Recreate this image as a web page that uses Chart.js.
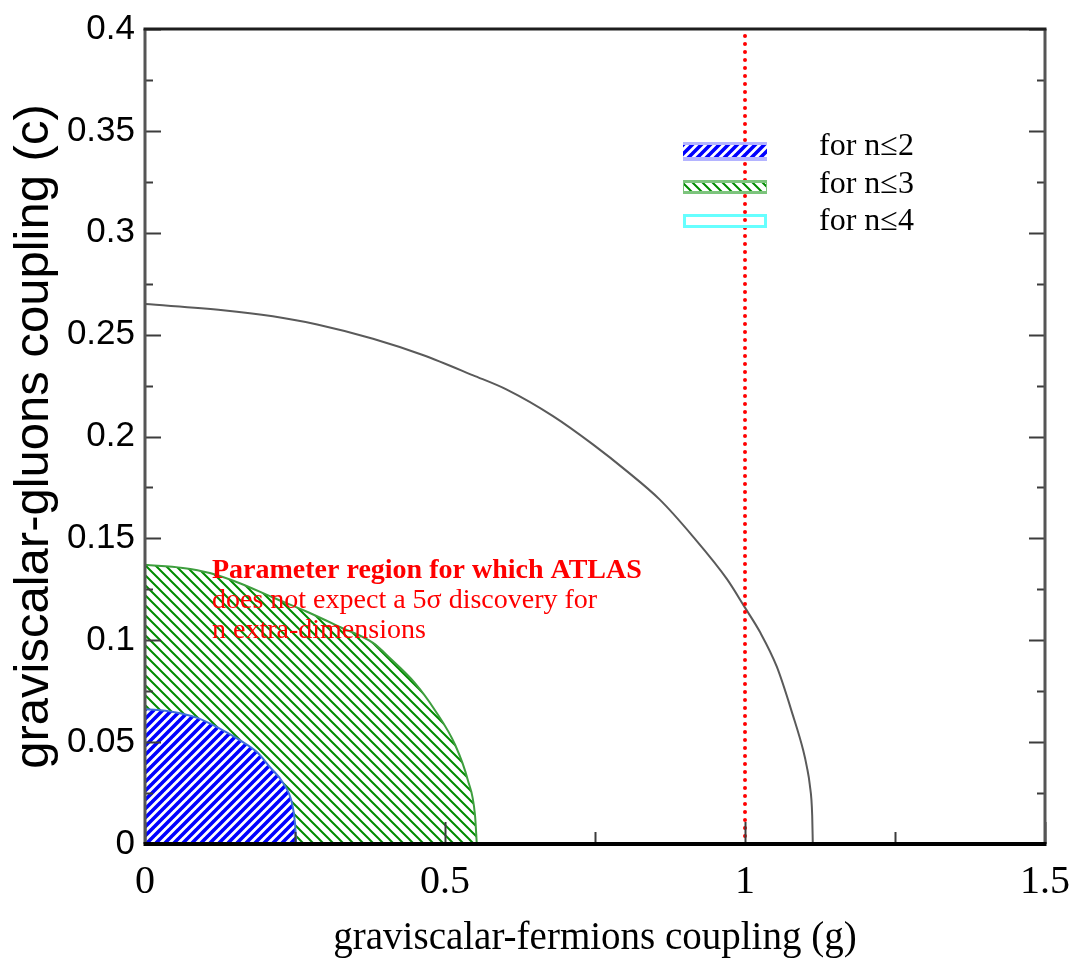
<!DOCTYPE html>
<html>
<head>
<meta charset="utf-8">
<script src="https://cdn.jsdelivr.net/npm/chart.js@4.4.0/dist/chart.umd.min.js"></script>
<style>
  html, body { margin: 0; padding: 0; background: #fff; }
  #wrap { width: 1070px; height: 964px; }
</style>
</head>
<body>
<div id="wrap"><canvas id="chart" width="1070" height="964"></canvas></div>
<script>
// reach curve: graviscalar-fermions coupling g vs graviscalar-gluons coupling c
const reachG = [0, 0.13, 0.213, 0.287, 0.38, 0.463, 0.547, 0.603, 0.68, 0.747, 0.803, 0.858, 0.913, 0.97, 1.0, 1.025, 1.053, 1.08, 1.097, 1.103, 1.108, 1.112, 1.113]
const reachC = [0.265, 0.262, 0.259, 0.255, 0.248, 0.24, 0.23, 0.223, 0.21, 0.196, 0.183, 0.169, 0.151, 0.13, 0.116, 0.104, 0.087, 0.063, 0.046, 0.038, 0.029, 0.014, 0]

// no-discovery region for n <= 3
const n3G = [0, 0.063, 0.108, 0.158, 0.213, 0.27, 0.325, 0.38, 0.408, 0.45, 0.483, 0.517, 0.538, 0.55, 0.553]
const n3C = [0.137, 0.1355, 0.133, 0.128, 0.121, 0.114, 0.1065, 0.0987, 0.0913, 0.079, 0.0658, 0.0486, 0.0314, 0.0142, 0]

// no-discovery region for n <= 2
const n2G = [0, 0.047, 0.087, 0.12, 0.158, 0.187, 0.208, 0.23, 0.245, 0.25, 0.252]
const n2C = [0.0663, 0.0648, 0.0619, 0.0574, 0.051, 0.045, 0.0378, 0.03, 0.02, 0.0103, 0]

// g = 1 reference line
const refG = [1, 1]
const refC = [0, 0.4]

const legendLabels = ['for n\u22642', 'for n\u22643', 'for n\u22644']
const noteLines = ['Parameter region for which ATLAS', 'does not expect a 5\u03c3 discovery for', 'n extra-dimensions']

const toPoints = (gs, cs) => gs.map((g, i) => ({ x: g, y: cs[i] }))
const fmt = v => String(+Number(v).toFixed(3))

const canvas = document.getElementById('chart')
const mainCtx = canvas.getContext('2d')

const makeHatch = (size, color, width, dir) => {
    const c = document.createElement('canvas')
    c.width = size
    c.height = size
    const ctx = c.getContext('2d')
    ctx.fillStyle = '#fff'
    ctx.fillRect(0, 0, size, size)
    ctx.strokeStyle = color
    ctx.lineWidth = width
    ctx.beginPath()
    for (const o of [-size, 0, size]) {
        if (dir === '/') {
            ctx.moveTo(o - 1, size + 1)
            ctx.lineTo(o + size + 1, -1)
        } else {
            ctx.moveTo(o - 1, -1)
            ctx.lineTo(o + size + 1, size + 1)
        }
    }
    ctx.stroke()
    return mainCtx.createPattern(c, 'repeat')
}

const blueHatch = makeHatch(9, '#0000ff', 3.6, '/')
const greenHatch = makeHatch(10, '#008c00', 2, '\\')

// inward ticks on left, right and bottom, the frame, legend and note
const frameAndTicks = {
    id: 'frameAndTicks',
    afterDatasetsDraw(chart) {
        const { ctx, chartArea: { left, right, top, bottom }, scales: { x, y } } = chart
        ctx.save()
        ctx.strokeStyle = '#3c3c3c'
        ctx.lineWidth = 2
        const yv = y.ticks.map(t => t.value)
        const xv = x.ticks.map(t => t.value)
        const drawY = (v, len) => {
            const py = Math.round(y.getPixelForValue(v)) + 0.5
            ctx.beginPath()
            ctx.moveTo(left, py); ctx.lineTo(left + len, py)
            ctx.moveTo(right, py); ctx.lineTo(right - len, py)
            ctx.stroke()
        }
        const drawX = (v, len) => {
            const px = Math.round(x.getPixelForValue(v)) + 0.5
            ctx.beginPath()
            ctx.moveTo(px, bottom); ctx.lineTo(px, bottom - len)
            ctx.stroke()
        }
        yv.forEach((v, i) => {
            drawY(v, 16)
            if (i < yv.length - 1) drawY((v + yv[i + 1]) / 2, 8)
        })
        xv.forEach((v, i) => {
            drawX(v, 22)
            if (i < xv.length - 1) drawX((v + xv[i + 1]) / 2, 12)
        })

        // frame
        ctx.lineWidth = 3
        ctx.strokeStyle = '#555'
        ctx.beginPath()
        ctx.moveTo(left, bottom); ctx.lineTo(left, top)
        ctx.moveTo(right, top); ctx.lineTo(right, bottom)
        ctx.stroke()
        ctx.strokeStyle = '#1e1e1e'
        ctx.beginPath()
        ctx.moveTo(left - 1.5, top); ctx.lineTo(right + 1.5, top)
        ctx.stroke()
        ctx.lineWidth = 4
        ctx.strokeStyle = '#000'
        ctx.beginPath()
        ctx.moveTo(left - 1.5, bottom); ctx.lineTo(right + 1.5, bottom)
        ctx.stroke()

        // legend swatches and labels
        const lx = left + 538
        ctx.fillStyle = '#b4b4ff'
        ctx.fillRect(lx, top + 113, 84, 19)
        ctx.fillStyle = blueHatch
        ctx.fillRect(lx, top + 116, 84, 12)
        ctx.fillStyle = '#7cc47c'
        ctx.fillRect(lx, top + 151, 84, 14)
        ctx.fillStyle = greenHatch
        ctx.fillRect(lx + 1, top + 154, 82, 8)
        ctx.strokeStyle = '#66ffff'
        ctx.lineWidth = 3
        ctx.strokeRect(lx + 1.5, top + 186.5, 81, 11)

        ctx.fillStyle = '#000'
        ctx.font = '32px "Liberation Serif"'
        ctx.textBaseline = 'alphabetic'
        legendLabels.forEach((t, i) => ctx.fillText(t, left + 674, top + 126 + i * 37.5))

        // note
        ctx.fillStyle = '#ff0000'
        noteLines.forEach((t, i) => {
            ctx.font = (i === 0 ? 'bold ' : '') + '28px "Liberation Serif"'
            ctx.fillText(t, left + 67, top + 549 + i * 30)
        })
        ctx.restore()
    }
}

new Chart(canvas, {
    type: 'line',
    data: {
        datasets: [
            {
                data: toPoints(refG, refC),
                borderColor: '#ff0000',
                borderWidth: 4,
                borderDash: [0, 8],
                borderCapStyle: 'round',
                pointRadius: 0,
                fill: false,
                order: 0
            },
            {
                data: toPoints(reachG, reachC),
                borderColor: '#5a5a5a',
                borderWidth: 2,
                pointRadius: 0,
                cubicInterpolationMode: 'monotone',
                fill: false,
                order: 1
            },
            {
                data: toPoints(n2G, n2C),
                borderColor: '#3f6fd8',
                borderWidth: 2,
                backgroundColor: blueHatch,
                pointRadius: 0,
                cubicInterpolationMode: 'monotone',
                fill: 'origin',
                order: 2
            },
            {
                data: toPoints(n3G, n3C),
                borderColor: '#3e9e3e',
                borderWidth: 2,
                backgroundColor: greenHatch,
                pointRadius: 0,
                cubicInterpolationMode: 'monotone',
                fill: 'origin',
                order: 3
            }
        ]
    },
    options: {
        responsive: false,
        animation: false,
        devicePixelRatio: 1,
        layout: { padding: { top: 29, right: 25, left: 0, bottom: 0 } },
        plugins: {
            legend: { display: false },
            tooltip: { enabled: false }
        },
        scales: {
            x: {
                type: 'linear',
                min: 0,
                max: 1.5,
                afterFit: s => {
                    s.height = 120
                    s.paddingLeft = 0
                    s.paddingRight = 0
                },
                grid: { display: false, drawTicks: false },
                border: { display: false },
                ticks: {
                    stepSize: 0.5,
                    padding: 14,
                    maxRotation: 0,
                    color: '#000',
                    font: { family: '"Liberation Serif"', size: 40 },
                    callback: fmt
                },
                title: {
                    display: true,
                    text: 'graviscalar-fermions coupling (g)',
                    color: '#000',
                    font: { family: '"Liberation Serif"', size: 39 },
                    padding: { top: 0, bottom: 2 }
                }
            },
            y: {
                type: 'linear',
                min: 0,
                max: 0.4,
                afterFit: s => {
                    s.width = 145
                    s.paddingTop = 0
                    s.paddingBottom = 0
                },
                grid: { display: false, drawTicks: false },
                border: { display: false },
                ticks: {
                    stepSize: 0.05,
                    padding: 10,
                    color: '#000',
                    font: { family: '"Liberation Sans"', size: 35 },
                    callback: fmt
                },
                title: {
                    display: true,
                    text: 'graviscalar-gluons coupling (c)',
                    color: '#000',
                    font: { family: '"Liberation Sans"', size: 49 },
                    padding: { top: 5, bottom: 0 }
                }
            }
        }
    },
    plugins: [frameAndTicks]
})
</script>
</body>
</html>
